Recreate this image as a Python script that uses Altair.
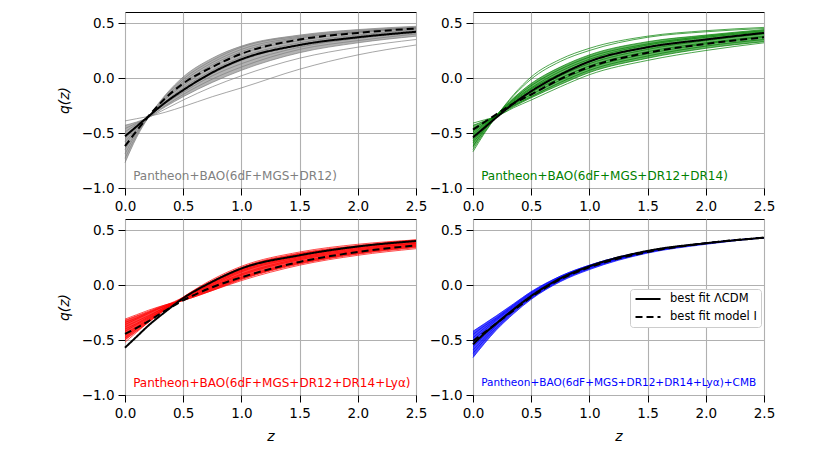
import altair as alt
import pandas as pd

Z = [0.0, 0.1, 0.2, 0.35, 0.5, 0.75, 1.0, 1.5, 2.0, 2.5]

# ---------- panel 1: Pantheon+BAO(6dF+MGS+DR12) ----------
LCDM_1 = [-0.53, -0.44, -0.35, -0.22, -0.11, 0.05, 0.17, 0.30, 0.37, 0.42]
MODEL_1 = [-0.62, -0.48, -0.35, -0.18, -0.05, 0.10, 0.22, 0.35, 0.41, 0.45]
CURVES_1 = [
    [-0.77, -0.54, -0.36, -0.15, 0.01, 0.18, 0.29, 0.39, 0.44, 0.47],
    [-0.73, -0.52, -0.36, -0.16, -0.01, 0.16, 0.28, 0.38, 0.43, 0.46],
    [-0.69, -0.50, -0.36, -0.17, -0.03, 0.14, 0.26, 0.37, 0.42, 0.46],
    [-0.65, -0.49, -0.36, -0.18, -0.05, 0.12, 0.24, 0.36, 0.42, 0.45],
    [-0.61, -0.47, -0.36, -0.19, -0.07, 0.10, 0.22, 0.34, 0.41, 0.45],
    [-0.58, -0.46, -0.36, -0.21, -0.09, 0.07, 0.19, 0.32, 0.39, 0.44],
    [-0.55, -0.45, -0.36, -0.22, -0.11, 0.04, 0.16, 0.30, 0.38, 0.43],
    [-0.52, -0.44, -0.36, -0.23, -0.13, 0.02, 0.13, 0.28, 0.36, 0.41],
    [-0.49, -0.42, -0.36, -0.25, -0.15, -0.01, 0.10, 0.26, 0.34, 0.40],
    [-0.46, -0.41, -0.36, -0.26, -0.17, -0.04, 0.07, 0.23, 0.32, 0.38],
    [-0.43, -0.40, -0.36, -0.28, -0.20, -0.08, 0.02, 0.18, 0.28, 0.35],
    [-0.39, -0.37, -0.35, -0.31, -0.26, -0.17, -0.09, 0.08, 0.21, 0.30],
]
BAND_HI_1 = [-0.43, -0.40, -0.36, -0.15, 0.01, 0.18, 0.29, 0.39, 0.44, 0.47]
BAND_LO_1 = [-0.77, -0.54, -0.36, -0.26, -0.17, -0.04, 0.07, 0.23, 0.32, 0.38]

# ---------- panel 2: Pantheon+BAO(6dF+MGS+DR12+DR14) ----------
LCDM_2 = [-0.54, -0.45, -0.36, -0.23, -0.12, 0.03, 0.15, 0.28, 0.35, 0.41]
MODEL_2 = [-0.47, -0.40, -0.33, -0.23, -0.15, -0.01, 0.10, 0.23, 0.31, 0.37]
CURVES_2 = [
    [-0.67, -0.50, -0.35, -0.15, 0.01, 0.17, 0.27, 0.38, 0.43, 0.46],
    [-0.65, -0.49, -0.35, -0.16, -0.01, 0.15, 0.25, 0.37, 0.42, 0.45],
    [-0.62, -0.47, -0.34, -0.18, -0.05, 0.10, 0.21, 0.33, 0.39, 0.44],
    [-0.59, -0.46, -0.34, -0.19, -0.07, 0.08, 0.19, 0.31, 0.38, 0.43],
    [-0.57, -0.45, -0.34, -0.20, -0.09, 0.06, 0.17, 0.30, 0.37, 0.42],
    [-0.55, -0.44, -0.34, -0.21, -0.10, 0.04, 0.15, 0.28, 0.35, 0.41],
    [-0.53, -0.43, -0.34, -0.22, -0.12, 0.02, 0.13, 0.26, 0.34, 0.40],
    [-0.51, -0.42, -0.34, -0.23, -0.13, 0.00, 0.11, 0.24, 0.32, 0.38],
    [-0.49, -0.41, -0.34, -0.24, -0.15, -0.02, 0.09, 0.22, 0.31, 0.37],
    [-0.46, -0.40, -0.34, -0.25, -0.17, -0.04, 0.07, 0.20, 0.29, 0.35],
    [-0.43, -0.39, -0.35, -0.26, -0.18, -0.06, 0.05, 0.18, 0.27, 0.33],
    [-0.41, -0.38, -0.35, -0.27, -0.20, -0.08, 0.03, 0.16, 0.25, 0.32],
]
BAND_HI_2 = [-0.43, -0.39, -0.34, -0.18, -0.05, 0.10, 0.21, 0.33, 0.39, 0.44]
BAND_LO_2 = [-0.64, -0.49, -0.35, -0.26, -0.18, -0.06, 0.05, 0.18, 0.27, 0.33]

# ---------- panel 3: Pantheon+BAO(6dF+MGS+DR12+DR14+Lya) ----------
LCDM_3 = [-0.57, -0.47, -0.37, -0.24, -0.12, 0.03, 0.15, 0.27, 0.35, 0.40]
MODEL_3 = [-0.445, -0.39, -0.33, -0.23, -0.14, -0.02, 0.07, 0.21, 0.30, 0.36]
CURVES_3 = [
    [-0.52, -0.43, -0.34, -0.22, -0.11, 0.05, 0.17, 0.30, 0.37, 0.41],
    [-0.50, -0.42, -0.34, -0.22, -0.11, 0.04, 0.16, 0.29, 0.36, 0.41],
    [-0.48, -0.40, -0.33, -0.22, -0.12, 0.03, 0.15, 0.28, 0.35, 0.40],
    [-0.46, -0.39, -0.32, -0.21, -0.12, 0.02, 0.14, 0.27, 0.35, 0.40],
    [-0.44, -0.38, -0.31, -0.21, -0.12, 0.01, 0.13, 0.26, 0.34, 0.39],
    [-0.42, -0.36, -0.30, -0.21, -0.12, 0.00, 0.12, 0.25, 0.33, 0.38],
    [-0.40, -0.35, -0.29, -0.20, -0.13, -0.01, 0.10, 0.24, 0.32, 0.38],
    [-0.38, -0.33, -0.28, -0.20, -0.13, -0.02, 0.09, 0.23, 0.31, 0.37],
    [-0.36, -0.31, -0.26, -0.19, -0.13, -0.03, 0.07, 0.21, 0.30, 0.36],
    [-0.34, -0.30, -0.25, -0.19, -0.14, -0.04, 0.06, 0.20, 0.29, 0.35],
    [-0.32, -0.28, -0.24, -0.18, -0.14, -0.05, 0.05, 0.19, 0.28, 0.34],
    [-0.31, -0.27, -0.23, -0.18, -0.14, -0.05, 0.04, 0.18, 0.27, 0.33],
]
BAND_HI_3 = [-0.32, -0.28, -0.24, -0.18, -0.11, 0.04, 0.16, 0.29, 0.36, 0.41]
BAND_LO_3 = [-0.50, -0.42, -0.34, -0.22, -0.14, -0.05, 0.05, 0.19, 0.28, 0.34]

# ---------- panel 4: Pantheon+BAO(6dF+MGS+DR12+DR14+Lya)+CMB ----------
LCDM_4 = [-0.54, -0.44, -0.35, -0.22, -0.10, 0.06, 0.17, 0.31, 0.38, 0.43]
MODEL_4 = [-0.51, -0.43, -0.35, -0.23, -0.11, 0.05, 0.16, 0.30, 0.38, 0.43]
CURVES_4 = [
    [-0.42, -0.35, -0.28, -0.17, -0.06, 0.08, 0.18, 0.31, 0.38, 0.43],
    [-0.45, -0.37, -0.30, -0.18, -0.07, 0.08, 0.18, 0.31, 0.38, 0.43],
    [-0.48, -0.39, -0.31, -0.19, -0.08, 0.07, 0.17, 0.31, 0.38, 0.43],
    [-0.50, -0.41, -0.32, -0.20, -0.09, 0.07, 0.17, 0.30, 0.38, 0.43],
    [-0.53, -0.43, -0.34, -0.21, -0.10, 0.06, 0.17, 0.30, 0.38, 0.43],
    [-0.56, -0.46, -0.36, -0.22, -0.10, 0.05, 0.16, 0.30, 0.38, 0.43],
    [-0.59, -0.48, -0.37, -0.23, -0.11, 0.05, 0.16, 0.30, 0.38, 0.43],
    [-0.62, -0.50, -0.39, -0.24, -0.12, 0.04, 0.15, 0.30, 0.38, 0.43],
    [-0.66, -0.53, -0.41, -0.26, -0.13, 0.03, 0.14, 0.29, 0.37, 0.43],
]
BAND_HI_4 = [-0.42, -0.35, -0.28, -0.17, -0.06, 0.08, 0.18, 0.31, 0.38, 0.43]
BAND_LO_4 = [-0.66, -0.53, -0.41, -0.26, -0.13, 0.03, 0.14, 0.29, 0.37, 0.43]

LABELS = [
    "Pantheon+BAO(6dF+MGS+DR12)",
    "Pantheon+BAO(6dF+MGS+DR12+DR14)",
    "Pantheon+BAO(6dF+MGS+DR12+DR14+Lyα)",
    "Pantheon+BAO(6dF+MGS+DR12+DR14+Lyα)+CMB",
]
LABEL_SIZES = [12, 12, 12, 10.5]
COLORS = ["gray", "green", "red", "blue"]
BAND_OPACITY = [0.6, 0.6, 0.75, 0.7]
FIT_NAMES = ["best fit ΛCDM", "best fit model I"]
LABEL_POS = (0.07, -0.89)

X_TICKS = [0.0, 0.5, 1.0, 1.5, 2.0, 2.5]
Y_TICKS = [-1.0, -0.5, 0.0, 0.5]


def panel(curves, hi, lo, lcdm, model, color, bop, label, lsize, left, bottom, legend):
    samples = pd.DataFrame(
        [{"z": z, "q": q, "curve": k} for k, c in enumerate(curves) for z, q in zip(Z, c)]
    )
    band = pd.DataFrame({"z": Z, "hi": hi, "lo": lo})
    best = pd.DataFrame(
        [{"z": z, "q": q, "fit": name}
         for name, c in zip(FIT_NAMES, [lcdm, model]) for z, q in zip(Z, c)]
    )
    lab = pd.DataFrame({"z": [LABEL_POS[0]], "q": [LABEL_POS[1]], "t": [label]})

    xs = alt.Scale(domain=[0, 2.5], nice=False)
    ys = alt.Scale(domain=[-1.0, 0.6], nice=False)
    xa = alt.Axis(values=X_TICKS, format=".1f", labelFlush=False,
                  title="z" if bottom else None)
    ya = alt.Axis(values=Y_TICKS, format=".1f", title="q(z)" if left else None)

    area = alt.Chart(band).mark_area(color=color, opacity=bop, interpolate="monotone").encode(
        x=alt.X("z:Q", scale=xs, axis=xa),
        y=alt.Y("hi:Q", scale=ys, axis=ya),
        y2="lo:Q",
    )
    lines = alt.Chart(samples).mark_line(
        color=color, strokeWidth=0.7, interpolate="monotone"
    ).encode(x="z:Q", y="q:Q", detail="curve:N")

    if legend:
        leg = alt.Legend(
            title=None, orient="none", legendX=157, legendY=70,
            fillColor="white", strokeColor="#cccccc", cornerRadius=3, padding=4,
            symbolType="M-2.5,0H2.5", symbolSize=100, symbolStrokeWidth=2,
            symbolStrokeColor="black", symbolOffset=8, labelOffset=16,
            labelFontSize=11.5, labelColor="black", rowPadding=6,
        )
    else:
        leg = None
    fits = alt.Chart(best).mark_line(color="black", strokeWidth=2, interpolate="monotone").encode(
        x="z:Q", y="q:Q",
        strokeDash=alt.StrokeDash(
            "fit:N", legend=leg,
            scale=alt.Scale(domain=FIT_NAMES, range=[[1, 0], [7, 4]]),
        ),
    )
    text = alt.Chart(lab).mark_text(
        align="left", baseline="middle", fontSize=lsize, color=color
    ).encode(x="z:Q", y="q:Q", text="t:N")

    return alt.layer(area, lines, fits, text).properties(width=291, height=176)


p1 = panel(CURVES_1, BAND_HI_1, BAND_LO_1, LCDM_1, MODEL_1, COLORS[0], BAND_OPACITY[0], LABELS[0], LABEL_SIZES[0], True, False, False)
p2 = panel(CURVES_2, BAND_HI_2, BAND_LO_2, LCDM_2, MODEL_2, COLORS[1], BAND_OPACITY[1], LABELS[1], LABEL_SIZES[1], False, False, False)
p3 = panel(CURVES_3, BAND_HI_3, BAND_LO_3, LCDM_3, MODEL_3, COLORS[2], BAND_OPACITY[2], LABELS[2], LABEL_SIZES[2], True, True, False)
p4 = panel(CURVES_4, BAND_HI_4, BAND_LO_4, LCDM_4, MODEL_4, COLORS[3], BAND_OPACITY[3], LABELS[3], LABEL_SIZES[3], False, True, True)

chart = alt.concat(p1, p2, p3, p4, columns=2, spacing={"row": 5, "column": 0}).resolve_scale(
    strokeDash="independent"
).resolve_legend(strokeDash="independent").properties(
    padding={"left": 48, "top": 3, "right": 5, "bottom": 0}
).configure(font="DejaVu Sans").configure_view(
    stroke="black", strokeWidth=1
).configure_axis(
    grid=True, gridColor="#b0b0b0", gridWidth=1.1, domain=False,
    tickColor="black", tickSize=7, tickWidth=1, labelFontSize=13.5, labelColor="black",
    labelPadding=4, titleFontSize=14, titleFontWeight="normal", titleFontStyle="italic",
    titleColor="black", titlePadding=10,
)

chart.save("out.html", embed_options={"renderer": "svg", "actions": False})
